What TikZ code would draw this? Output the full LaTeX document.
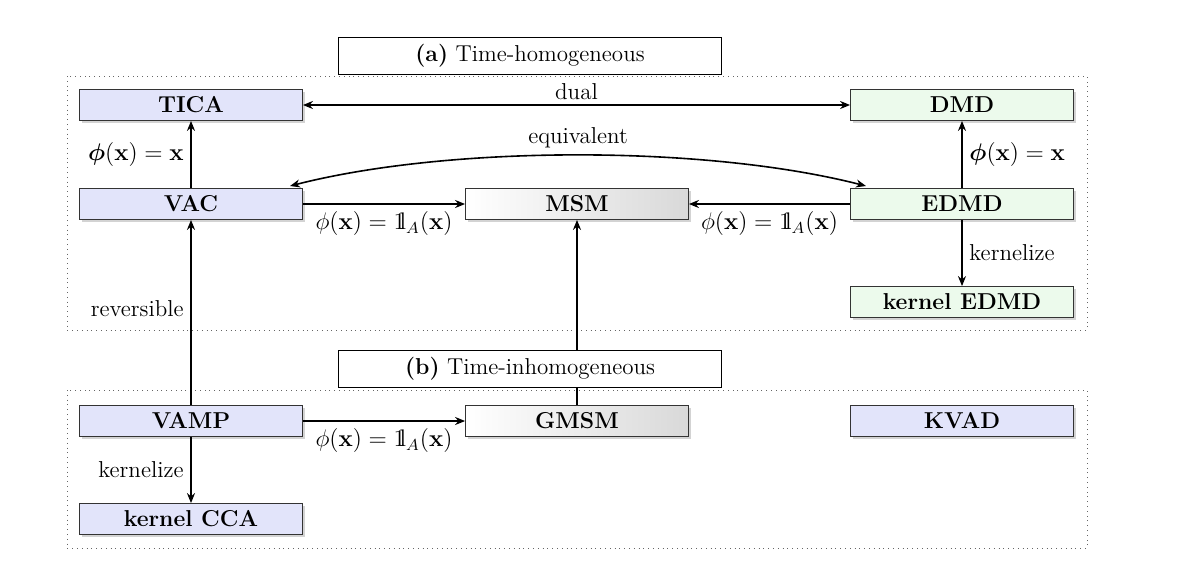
\documentclass[tikz,border=0pt]{standalone}
\usepackage{amsmath,amssymb,bm}
\usetikzlibrary{shadows,arrows.meta}
\definecolor{bl}{RGB}{226,228,250}
\definecolor{gr}{RGB}{236,250,236}
\newcommand{\indic}{\mathrm{1\mkern-4.2mu l}}
\begin{document}
\begin{tikzpicture}[x=0.5pt,y=-0.5pt,
 every node/.style={font=\fontsize{11.5}{13}\selectfont},
 box/.style={draw=black!80,minimum width=111.5pt,minimum height=15.5pt,inner sep=0pt,font=\fontsize{11.5}{13}\selectfont\bfseries,drop shadow={shadow xshift=1.2pt,shadow yshift=-1.2pt,opacity=0.35}},
 b/.style={box,fill=bl}, g/.style={box,fill=gr},
 m/.style={box,left color=white,right color=black!15},
 ttl/.style={draw,fill=white,minimum width=191.5pt,minimum height=18.5pt,inner sep=0pt},
 fr/.style={draw=black!60,dotted},
 ar/.style={-{Stealth[length=5pt,width=4pt]},thick,black},
 lb/.style={}]
\useasboundingbox (0,0) rectangle (1200,574);
\draw[fr] (67,76) rectangle (1087,330);
\draw[fr] (67,390) rectangle (1087,548);
\node[b] (tica) at (191,105) {TICA};
\node[b] (vac) at (191,204) {VAC};
\node[m] (msm) at (577,204) {MSM};
\node[g] (dmd) at (962,105) {DMD};
\node[g] (edmd) at (962,204) {EDMD};
\node[g] (kedmd) at (962,302) {kernel EDMD};
\node[b] (vamp) at (191,421) {VAMP};
\node[m] (gmsm) at (577,421) {GMSM};
\node[b] (kvad) at (962,421) {KVAD};
\node[b] (kcca) at (191,519) {kernel CCA};
\draw[ar] (gmsm) -- (msm);
\node[ttl] (ta) at (530,56) {\textbf{(a)} Time-homogeneous};
\node[ttl] (tb) at (530,369) {\textbf{(b)} Time-inhomogeneous};
\draw[ar,{Stealth[length=5pt,width=4pt]}-{Stealth[length=5pt,width=4pt]}] (tica) -- node[above,lb,yshift=-1pt]{dual} (dmd);
\draw[ar] (vac) -- node[left,lb]{$\bm{\phi}(\mathbf{x})=\mathbf{x}$} (tica);
\draw[ar] (edmd) -- node[right,lb]{$\bm{\phi}(\mathbf{x})=\mathbf{x}$} (dmd);
\coordinate (v1) at (290,186); \coordinate (e1) at (866,186);
\draw[ar,{Stealth[length=5pt,width=4pt]}-{Stealth[length=5pt,width=4pt]}] (v1) .. controls (450,145) and (706,145) .. node[above,lb,pos=0.5]{equivalent} (e1);
\draw[ar] (vac) -- node[below,lb]{$\phi(\mathbf{x})=\indic_A(\mathbf{x})$} (msm);
\draw[ar] (edmd) -- node[below,lb]{$\phi(\mathbf{x})=\indic_A(\mathbf{x})$} (msm);
\draw[ar] (edmd) -- node[right,lb]{kernelize} (kedmd);
\draw[ar] (vamp) -- node[left,lb,pos=0.52]{reversible} (vac);
\draw[ar] (vamp) -- node[below,lb]{$\phi(\mathbf{x})=\indic_A(\mathbf{x})$} (gmsm);
\draw[ar] (vamp) -- node[left,lb]{kernelize} (kcca);
\end{tikzpicture}
\end{document}
